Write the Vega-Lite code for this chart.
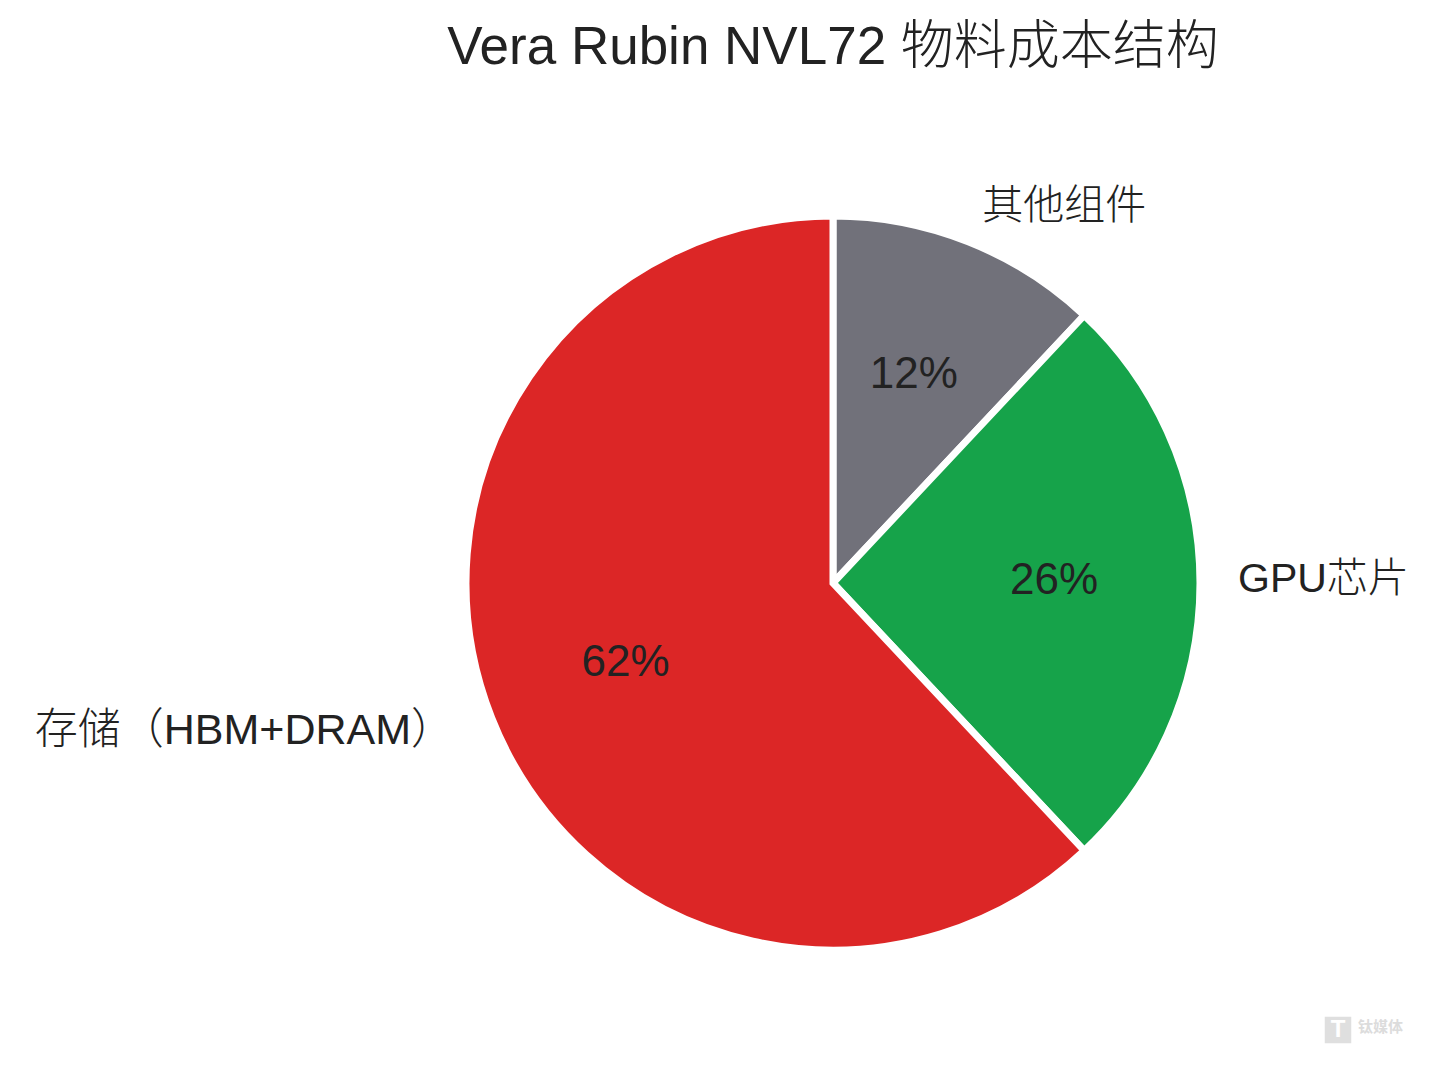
{
  "$schema": "https://vega.github.io/schema/vega-lite/v6.json",
  "autosize": {"type": "none"},
  "width": 1212,
  "height": 974,
  "padding": {"left": 227, "top": 96, "right": 0, "bottom": 0},
  "background": "white",
  "title": {
    "text": "Vera Rubin NVL72 物料成本结构",
    "font": "Liberation Sans, Noto Sans CJK SC",
    "fontSize": 53,
    "fontWeight": 300,
    "color": "#222222",
    "anchor": "middle",
    "offset": 21
  },
  "config": {"view": {"stroke": null}},
  "layer": [
    {
      "data": {
        "values": [
          {"part": "其他组件", "share": 12, "rank": 1},
          {"part": "GPU芯片", "share": 26, "rank": 2},
          {"part": "存储（HBM+DRAM）", "share": 62, "rank": 3}
        ]
      },
      "transform": [{"calculate": "datum.share + '%'", "as": "pct"}],
      "encoding": {
        "theta": {"field": "share", "type": "quantitative", "stack": true},
        "order": {"field": "rank", "type": "ordinal"},
        "detail": {"field": "part"}
      },
      "layer": [
        {
          "mark": {"type": "arc", "outerRadius": 367, "stroke": "white", "strokeWidth": 7},
          "encoding": {
            "color": {
              "field": "part",
              "type": "nominal",
              "legend": null,
              "scale": {
                "domain": ["其他组件", "GPU芯片", "存储（HBM+DRAM）"],
                "range": ["#71717a", "#16a34a", "#dc2626"]
              }
            }
          }
        },
        {
          "mark": {"type": "text", "radius": 222, "dx": -1, "dy": -2, "font": "Liberation Sans, Noto Sans CJK SC", "fontSize": 44, "fontWeight": 300, "color": "#222222"},
          "encoding": {"text": {"field": "pct"}}
        },
        {
          "mark": {"type": "text", "radius": 400, "align": "left", "dy": -4, "dx": 2, "font": "Liberation Sans, Noto Sans CJK SC", "fontSize": 41, "fontWeight": 300, "color": "#222222"},
          "encoding": {
            "text": {"condition": {"test": "datum.rank === 1", "field": "part"}, "value": ""}
          }
        },
        {
          "mark": {"type": "text", "radius": 400, "align": "left", "dy": -3, "dx": 5, "font": "Liberation Sans, Noto Sans CJK SC", "fontSize": 41, "fontWeight": 300, "color": "#222222"},
          "encoding": {
            "text": {"condition": {"test": "datum.rank === 2", "field": "part"}, "value": ""}
          }
        },
        {
          "mark": {"type": "text", "radius": 400, "align": "right", "dx": -7, "dy": 1, "font": "Liberation Sans, Noto Sans CJK SC", "fontSize": 43, "fontWeight": 300, "color": "#222222"},
          "encoding": {
            "text": {"condition": {"test": "datum.rank === 3", "field": "part"}, "value": ""}
          }
        }
      ]
    },
    {
      "data": {"values": [{"icon": "T", "brand": "钛媒体"}]},
      "layer": [
        {
          "mark": {"type": "point", "shape": "square", "filled": true, "size": 700, "color": "#dcdcdc", "opacity": 0.9},
          "encoding": {"x": {"value": "width"}, "y": {"value": "height"}, "xOffset": {"value": -101}, "yOffset": {"value": -40}}
        },
        {
          "mark": {"type": "text", "align": "center", "baseline": "middle", "dx": -101, "dy": -40, "font": "Liberation Sans", "fontWeight": "bold", "fontSize": 24, "color": "white"},
          "encoding": {"x": {"value": "width"}, "y": {"value": "height"}, "text": {"field": "icon"}}
        },
        {
          "mark": {"type": "text", "align": "right", "baseline": "middle", "dx": -36, "dy": -43, "font": "Noto Sans CJK SC", "fontWeight": "bold", "fontSize": 15, "color": "#dcdcdc"},
          "encoding": {"x": {"value": "width"}, "y": {"value": "height"}, "text": {"field": "brand"}}
        }
      ]
    }
  ]
}
